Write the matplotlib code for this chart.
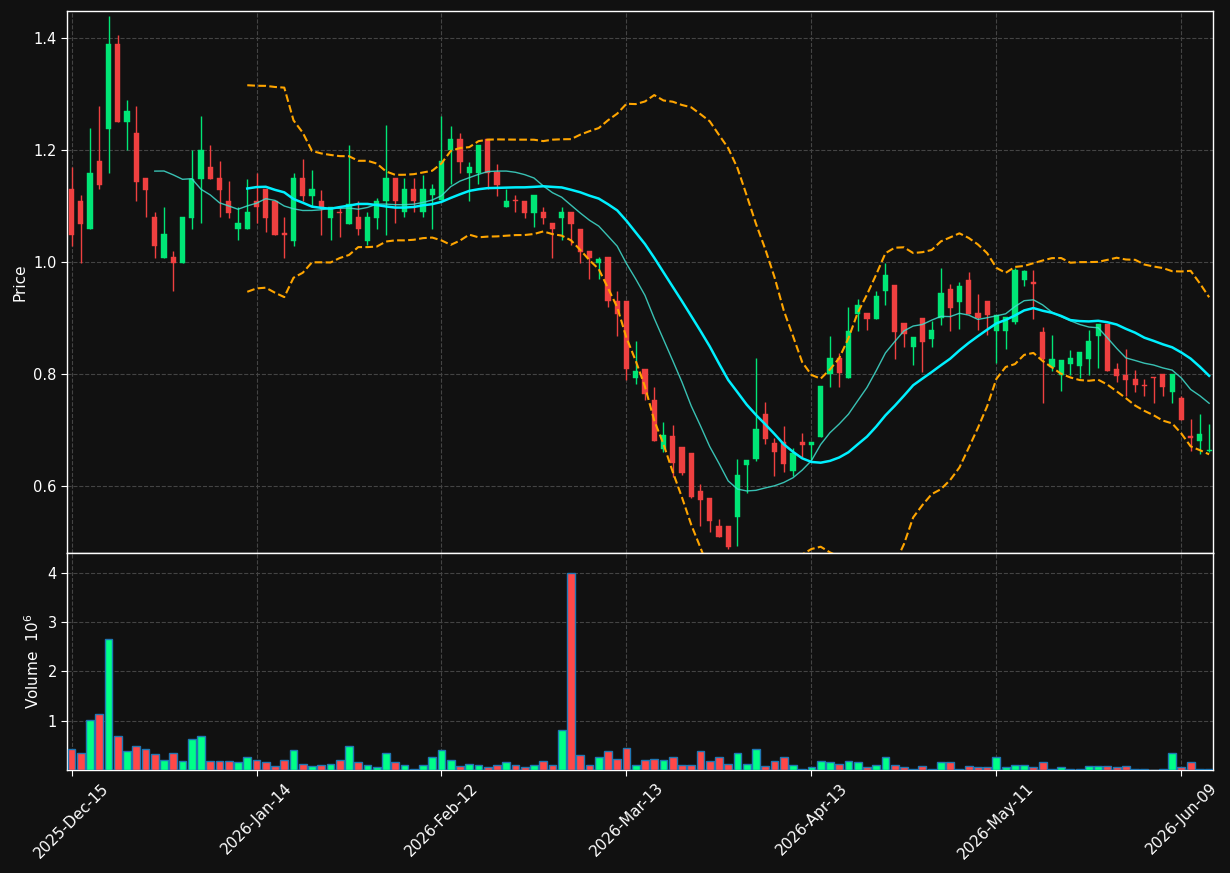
import numpy as np
import pandas as pd
import matplotlib
matplotlib.use("Agg")
import matplotlib.pyplot as plt

# ---------------- data ----------------
opens = [1.130, 1.109, 1.058, 1.180, 1.238, 1.389, 1.249, 1.230, 1.150, 1.080,
         1.008, 1.009, 0.999, 1.079, 1.149, 1.170, 1.150, 1.109, 1.058, 1.058,
         1.109, 1.130, 1.109, 1.051, 1.038, 1.150, 1.118, 1.109, 1.079, 1.089,
         1.068, 1.080, 1.038, 1.079, 1.108, 1.150, 1.089, 1.130, 1.089, 1.119,
         1.110, 1.199, 1.220, 1.158, 1.158, 1.220, 1.160, 1.098, 1.109, 1.109,
         1.088, 1.089, 1.070, 1.079, 1.089, 1.059, 1.020, 0.999, 1.009, 0.930,
         0.930, 0.793, 0.809, 0.754, 0.666, 0.689, 0.670, 0.659, 0.591, 0.579,
         0.529, 0.529, 0.545, 0.637, 0.648, 0.729, 0.677, 0.679, 0.627, 0.679,
         0.674, 0.687, 0.800, 0.829, 0.793, 0.907, 0.909, 0.898, 0.948, 0.959,
         0.891, 0.848, 0.900, 0.863, 0.900, 0.952, 0.929, 0.968, 0.909, 0.930,
         0.877, 0.876, 0.893, 0.968, 0.964, 0.875, 0.813, 0.799, 0.818, 0.815,
         0.827, 0.867, 0.889, 0.809, 0.798, 0.791, 0.779, 0.794, 0.800, 0.768,
         0.757, 0.689, 0.681, 0.662]
highs = [1.170, 1.119, 1.239, 1.279, 1.439, 1.405, 1.289, 1.279, 1.150, 1.089,
         1.099, 1.019, 1.080, 1.199, 1.260, 1.208, 1.180, 1.144, 1.099, 1.149,
         1.158, 1.130, 1.109, 1.080, 1.158, 1.183, 1.165, 1.129, 1.099, 1.096,
         1.208, 1.109, 1.089, 1.114, 1.244, 1.150, 1.150, 1.150, 1.155, 1.139,
         1.261, 1.243, 1.230, 1.179, 1.209, 1.220, 1.175, 1.130, 1.119, 1.109,
         1.120, 1.099, 1.070, 1.099, 1.089, 1.059, 1.020, 1.009, 1.009, 0.949,
         0.930, 0.859, 0.809, 0.776, 0.715, 0.709, 0.670, 0.659, 0.604, 0.579,
         0.542, 0.529, 0.649, 0.646, 0.828, 0.750, 0.686, 0.707, 0.668, 0.695,
         0.679, 0.779, 0.867, 0.838, 0.920, 0.934, 0.909, 0.948, 0.998, 0.959,
         0.891, 0.866, 0.900, 0.895, 0.989, 0.961, 0.964, 0.982, 0.943, 0.930,
         0.905, 0.902, 0.989, 0.986, 0.986, 0.884, 0.869, 0.825, 0.843, 0.839,
         0.879, 0.889, 0.889, 0.819, 0.845, 0.807, 0.792, 0.795, 0.800, 0.800,
         0.761, 0.719, 0.729, 0.711]
lows = [1.029, 0.999, 1.058, 1.130, 1.158, 1.249, 1.199, 1.108, 1.080, 1.008,
        1.008, 0.949, 0.999, 1.058, 1.069, 1.148, 1.080, 1.078, 1.039, 1.058,
        1.069, 1.054, 1.049, 1.008, 1.029, 1.109, 1.099, 1.049, 1.039, 1.044,
        1.068, 1.049, 1.030, 1.058, 1.049, 1.069, 1.080, 1.089, 1.080, 1.058,
        1.110, 1.139, 1.158, 1.108, 1.139, 1.130, 1.118, 1.098, 1.089, 1.079,
        1.063, 1.068, 1.008, 1.039, 1.030, 0.999, 0.969, 0.969, 0.920, 0.867,
        0.789, 0.782, 0.753, 0.680, 0.661, 0.617, 0.619, 0.578, 0.529, 0.518,
        0.509, 0.487, 0.493, 0.587, 0.645, 0.675, 0.618, 0.625, 0.618, 0.652,
        0.646, 0.687, 0.777, 0.777, 0.793, 0.877, 0.879, 0.898, 0.923, 0.827,
        0.848, 0.817, 0.803, 0.848, 0.888, 0.877, 0.881, 0.907, 0.879, 0.870,
        0.820, 0.845, 0.889, 0.958, 0.899, 0.748, 0.806, 0.769, 0.799, 0.793,
        0.799, 0.810, 0.806, 0.786, 0.761, 0.768, 0.760, 0.749, 0.760, 0.748,
        0.718, 0.662, 0.658, 0.661]
closes = [1.048, 1.068, 1.159, 1.138, 1.389, 1.249, 1.270, 1.143, 1.129, 1.029,
          1.050, 0.999, 1.080, 1.149, 1.200, 1.148, 1.129, 1.087, 1.070, 1.089,
          1.099, 1.079, 1.049, 1.049, 1.150, 1.118, 1.130, 1.099, 1.099, 1.087,
          1.103, 1.058, 1.080, 1.109, 1.150, 1.108, 1.130, 1.108, 1.130, 1.130,
          1.180, 1.220, 1.179, 1.170, 1.209, 1.158, 1.138, 1.109, 1.108, 1.088,
          1.120, 1.079, 1.058, 1.089, 1.068, 1.018, 1.008, 1.005, 0.930, 0.907,
          0.809, 0.805, 0.765, 0.680, 0.691, 0.641, 0.623, 0.580, 0.575, 0.537,
          0.509, 0.491, 0.620, 0.646, 0.702, 0.684, 0.661, 0.639, 0.659, 0.674,
          0.679, 0.779, 0.829, 0.802, 0.877, 0.923, 0.898, 0.939, 0.977, 0.875,
          0.871, 0.866, 0.857, 0.879, 0.945, 0.918, 0.957, 0.907, 0.900, 0.905,
          0.905, 0.902, 0.986, 0.984, 0.961, 0.827, 0.827, 0.825, 0.829, 0.839,
          0.859, 0.889, 0.806, 0.797, 0.790, 0.781, 0.778, 0.793, 0.777, 0.800,
          0.718, 0.685, 0.693, 0.663]
volumes = [0.418, 0.337, 1.006, 1.135, 2.648, 0.689, 0.378, 0.486, 0.418, 0.324,
           0.215, 0.337, 0.195, 0.621, 0.689, 0.175, 0.175, 0.175, 0.155, 0.256,
           0.215, 0.155, 0.074, 0.215, 0.398, 0.134, 0.074, 0.114, 0.134, 0.215,
           0.486, 0.155, 0.094, 0.054, 0.337, 0.155, 0.114, 0.033, 0.114, 0.276,
           0.398, 0.215, 0.081, 0.134, 0.094, 0.054, 0.114, 0.155, 0.114, 0.054,
           0.094, 0.195, 0.094, 0.823, 3.993, 0.316, 0.094, 0.276, 0.378, 0.235,
           0.458, 0.114, 0.215, 0.235, 0.215, 0.276, 0.114, 0.114, 0.378, 0.175,
           0.256, 0.134, 0.337, 0.134, 0.418, 0.074, 0.175, 0.256, 0.094, 0.033,
           0.054, 0.195, 0.155, 0.134, 0.175, 0.155, 0.054, 0.094, 0.256, 0.114,
           0.054, 0.033, 0.074, 0.033, 0.155, 0.155, 0.033, 0.074, 0.054, 0.054,
           0.276, 0.054, 0.114, 0.114, 0.054, 0.155, 0.013, 0.054, 0.013, 0.033,
           0.074, 0.074, 0.074, 0.054, 0.074, 0.013, 0.013, 0.010, 0.033, 0.357,
           0.054, 0.155, 0.013, 0.033]  # in millions
tick_labels = ["2025-Dec-15", "2026-Jan-14", "2026-Feb-12", "2026-Mar-13",
               "2026-Apr-13", "2026-May-11", "2026-Jun-09"]
tick_step = 20

# ---------------- style ----------------
BG = "#111111"
UP, DN = "#00e676", "#ef4040"
VUP, VDN = "#00ff88", "#ff4848"
GRID = "#444444"
FG = "white"

o = np.array(opens); h = np.array(highs); l = np.array(lows); c = np.array(closes)
v = np.array(volumes)
n = len(c)
x = np.arange(n)
up = c >= o

fig = plt.figure(figsize=(12.3, 8.73), dpi=100, facecolor=BG)
ax = fig.add_axes([0.0547, 0.3662, 0.9318, 0.6212])
axv = fig.add_axes([0.0547, 0.1180, 0.9318, 0.2482], sharex=ax)

for a in (ax, axv):
    a.set_facecolor(BG)
    for s in a.spines.values():
        s.set_color(FG)
        s.set_linewidth(1.0)
    a.tick_params(colors=FG, labelcolor=FG, labelsize=10.5, length=4)
    a.grid(True, color=GRID, linestyle="--", linewidth=0.8)
    a.set_axisbelow(True)

# candles
ccol = np.where(up, UP, DN)
ax.vlines(x, l, h, colors=ccol, linewidth=1.0, zorder=2)
body_b = np.minimum(o, c)
body_h = np.maximum(np.abs(c - o), 0.0025)
ax.bar(x, body_h, bottom=body_b, width=0.56, color=ccol, edgecolor=ccol,
       linewidth=0.3, zorder=3)

# moving averages & bollinger bands
s = pd.Series(c)
ma10 = s.rolling(10).mean()
ma20 = s.rolling(20).mean()
sd20 = s.rolling(20).std()
ax.plot(x, ma10, color="#40e0d0", linewidth=1.0, alpha=0.85, zorder=4)
ax.plot(x, ma20, color="#00f0ff", linewidth=1.8, zorder=4)
ax.plot(x, ma20 + 2 * sd20, color="#ffa500", linestyle="--", linewidth=1.5, zorder=4)
ax.plot(x, ma20 - 2 * sd20, color="#ffa500", linestyle="--", linewidth=1.5, zorder=4)

ax.set_ylim(0.48, 1.448)
ax.set_yticks([0.6, 0.8, 1.0, 1.2, 1.4])
ax.set_ylabel("Price", color=FG, fontsize=11)

# volume
vcol = np.where(up, VUP, VDN)
axv.bar(x, v, width=0.85, color=vcol, edgecolor="#1f77b4", linewidth=1.0, zorder=3)
axv.set_ylim(0.3 * v.min(), 1.1 * v.max())
axv.set_yticks([1, 2, 3, 4])
axv.set_ylabel("Volume  $10^{6}$", color=FG, fontsize=11)

ticks = np.arange(0, n, tick_step)[:len(tick_labels)]
axv.set_xticks(ticks)
axv.set_xticklabels(tick_labels, rotation=45, ha="center", fontsize=11)
ax.set_xlim(-0.46, n - 1 + 0.46)
plt.setp(ax.get_xticklabels(), visible=False)
ax.tick_params(axis="x", length=0)

fig.savefig("out.png", dpi=100, facecolor=BG)
